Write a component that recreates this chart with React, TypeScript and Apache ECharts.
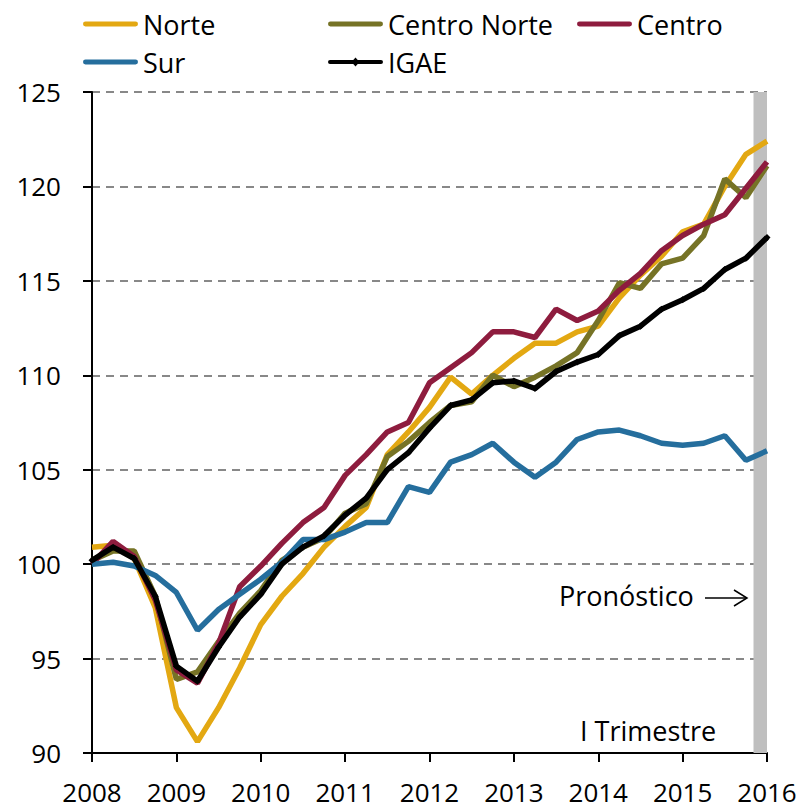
import { useEffect, useRef } from "react";
import * as echarts from "echarts";

const startYear = 2008;
const yearTicks = [2008, 2009, 2010, 2011, 2012, 2013, 2014, 2015, 2016];

const norte = [100.9, 101.0, 100.3, 97.7, 92.4, 90.6, 92.4, 94.5, 96.8, 98.3, 99.5, 100.9, 102.0, 103.0, 105.8, 107.0, 108.3, 109.9, 109.0, 110.0, 110.9, 111.7, 111.7, 112.3, 112.6, 114.1, 115.3, 116.3, 117.6, 118.0, 120.0, 121.7, 122.4];
const centroNorte = [100.2, 100.7, 100.7, 98.3, 93.9, 94.3, 95.9, 97.4, 98.6, 100.2, 100.9, 101.4, 102.7, 103.2, 105.7, 106.5, 107.5, 108.4, 108.6, 110.0, 109.4, 109.9, 110.5, 111.2, 112.9, 114.9, 114.6, 115.9, 116.2, 117.4, 120.4, 119.4, 121.1];
const centro = [100.0, 101.2, 100.4, 98.1, 94.4, 93.7, 95.8, 98.8, 99.9, 101.1, 102.2, 103.0, 104.7, 105.8, 107.0, 107.5, 109.6, 110.4, 111.2, 112.3, 112.3, 112.0, 113.5, 112.9, 113.4, 114.5, 115.4, 116.6, 117.4, 118.0, 118.5, 119.9, 121.3];
const sur = [100.0, 100.1, 99.9, 99.4, 98.5, 96.5, 97.6, 98.4, 99.2, 100.1, 101.3, 101.3, 101.7, 102.2, 102.2, 104.1, 103.8, 105.4, 105.8, 106.4, 105.4, 104.6, 105.4, 106.6, 107.0, 107.1, 106.8, 106.4, 106.3, 106.4, 106.8, 105.5, 106.0];
const igae = [100.2, 100.9, 100.3, 98.3, 94.6, 93.8, 95.6, 97.2, 98.4, 100.0, 100.9, 101.5, 102.6, 103.5, 105.0, 105.9, 107.2, 108.4, 108.7, 109.6, 109.7, 109.3, 110.2, 110.7, 111.1, 112.1, 112.6, 113.5, 114.0, 114.6, 115.6, 116.2, 117.3];

const forecastStart = 2015.84;
const forecastEnd = 2016;

const FONT = "'Open Sans', Lato, sans-serif";

const LINE_ICON = "path://M2,2 L53,2 A2,2 0 0 1 53,7 L2,7 A2,2 0 0 1 2,2 Z";
const IGAE_ICON = "path://M2,2.5 L53,2.5 A2,2 0 0 1 53,6.5 L2,6.5 A2,2 0 0 1 2,2.5 Z M27.5,0 L31.5,4.5 L27.5,9 L23.5,4.5 Z";

const toPoints = (vals: number[]) => vals.map((v, i) => [startYear + i * 0.25, v]);

export default function App() {
  const ref = useRef<HTMLDivElement>(null);
  useEffect(() => {
    document.body.style.margin = "0";
    const chart = echarts.init(ref.current!, null, { renderer: "svg" });
    const mk = (name: string, vals: number[], color: string, z: number) => ({
      name,
      type: "line",
      data: toPoints(vals),
      symbol: "none",
      z,
      lineStyle: { width: 5.5, color },
      itemStyle: { color },
    });
    const legendBase = (left: number, top: number, name: string, icon: string) => ({
      left,
      top,
      padding: 0,
      itemWidth: 55,
      itemHeight: 9,
      icon,
      data: [{ name, icon }],
      textStyle: { fontFamily: FONT, fontSize: 27, color: "#000", lineHeight: 30 },
    });
    chart.setOption({
      animation: false,
      grid: { left: 92, right: 33, top: 92, bottom: 57, containLabel: false },
      legend: [
        legendBase(83, 9, "Norte", LINE_ICON),
        legendBase(328, 9, "Centro Norte", LINE_ICON),
        legendBase(577, 9, "Centro", LINE_ICON),
        legendBase(83, 47, "Sur", LINE_ICON),
        legendBase(328, 47, "IGAE", IGAE_ICON),
      ],
      xAxis: {
        type: "value",
        min: yearTicks[0],
        max: yearTicks[yearTicks.length - 1],
        interval: 1,
        axisLine: { lineStyle: { color: "#000", width: 2 } },
        axisTick: { show: true, length: 9, lineStyle: { color: "#000", width: 2 } },
        axisLabel: { fontFamily: FONT, fontSize: 26, lineHeight: 26, color: "#000", margin: 26, formatter: (v: number) => String(v) },
        splitLine: { show: false },
      },
      yAxis: {
        type: "value",
        min: 90,
        max: 125,
        interval: 5,
        axisLine: { show: true, lineStyle: { color: "#000", width: 2 } },
        axisTick: { show: true, length: 9, lineStyle: { color: "#000", width: 2 } },
        axisLabel: { fontFamily: FONT, fontSize: 26, color: "#000", margin: 31 },
        splitLine: { show: true, lineStyle: { color: "#888", width: 2, type: [8, 6] } },
      },
      series: [
        {
          name: "forecast",
          type: "line",
          data: [],
          z: 1,
          markArea: {
            silent: true,
            itemStyle: { color: "#BFBFBF" },
            data: [[{ xAxis: forecastStart }, { xAxis: forecastEnd }]],
          },
        },
        mk("Norte", norte, "#E3A812", 2),
        mk("Centro Norte", centroNorte, "#767326", 3),
        mk("Centro", centro, "#8E1C3E", 4),
        mk("Sur", sur, "#256E9D", 5),
        {
          name: "IGAE",
          type: "line",
          data: toPoints(igae),
          symbol: "diamond",
          symbolSize: 7,
          showSymbol: true,
          z: 6,
          lineStyle: { width: 5.5, color: "#000" },
          itemStyle: { color: "#000" },
        },
      ],
      graphic: [
        {
          type: "text",
          left: 559,
          top: 582,
          style: { text: "Pronóstico", fontFamily: FONT, fontSize: 27, fill: "#000" },
        },
        {
          type: "line",
          shape: { x1: 705, y1: 598, x2: 747, y2: 598 },
          style: { stroke: "#000", lineWidth: 1.5 },
        },
        {
          type: "polyline",
          shape: { points: [[734, 590], [747, 598], [734, 606]] },
          style: { stroke: "#000", lineWidth: 1.5, fill: null },
        },
        {
          type: "text",
          left: 580,
          top: 717,
          style: { text: "I Trimestre", fontFamily: FONT, fontSize: 27, fill: "#000" },
        },
      ],
    });
    return () => chart.dispose();
  }, []);
  return <div ref={ref} style={{ width: 800, height: 810 }} />;
}
